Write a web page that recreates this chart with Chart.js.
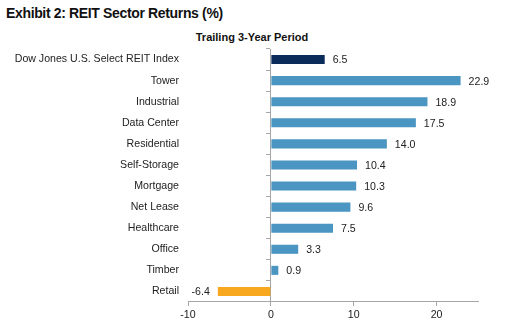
<!DOCTYPE html>
<html>
<head>
<meta charset="utf-8">
<script src="https://cdn.jsdelivr.net/npm/chart.js"></script>
<style>
  body { margin: 0; background: #fff; font-family: "Liberation Sans", Arial, sans-serif; }
  #wrap { position: relative; width: 513px; height: 332px; }
  #title { position: absolute; left: 6px; top: 5px; font-size: 14px; letter-spacing: -0.35px; font-weight: bold; color: #111; }
  #sub { position: absolute; left: 0; width: 504px; top: 31px; text-align: center; font-size: 11px; font-weight: bold; color: #111; }
  #box { position: absolute; left: 0; top: 44px; width: 513px; height: 288px; }
</style>
</head>
<body>
<div id="wrap">
  <div id="title">Exhibit 2: REIT Sector Returns (%)</div>
  <div id="sub">Trailing 3-Year Period</div>
  <div id="box"><canvas id="chart"></canvas></div>
</div>
<script>
const sectors = ['Dow Jones U.S. Select REIT Index', 'Tower', 'Industrial', 'Data Center', 'Residential',
  'Self-Storage', 'Mortgage', 'Net Lease', 'Healthcare', 'Office', 'Timber', 'Retail'];
const returns3yr = [6.5, 22.9, 18.9, 17.5, 14.0, 10.4, 10.3, 9.6, 7.5, 3.3, 0.9, -6.4];
const xTicks = [-10, 0, 10, 20];

const NAVY = '#0b2c5a', BLUE = '#4a95c2', ORANGE = '#f7a81e';
const barColors = returns3yr.map((v, i) => i === 0 ? NAVY : (v < 0 ? ORANGE : BLUE));

const FONT = '"Liberation Sans", Arial, sans-serif';
Chart.defaults.font.family = FONT;
Chart.defaults.font.size = 10.6;
Chart.defaults.color = '#222';

// value text at the end of each bar
const valueLabels = {
  id: 'valueLabels',
  afterDatasetsDraw(chart) {
    const ctx = chart.ctx;
    const meta = chart.getDatasetMeta(0);
    ctx.save();
    ctx.font = '10.6px ' + FONT;
    ctx.fillStyle = '#222';
    ctx.textBaseline = 'middle';
    meta.data.forEach((bar, i) => {
      const v = returns3yr[i];
      if (v >= 0) {
        ctx.textAlign = 'left';
        ctx.fillText(v.toFixed(1), bar.x + 8, bar.y + 1);
      } else {
        ctx.textAlign = 'right';
        ctx.fillText(v.toFixed(1), bar.x - 8, bar.y + 1);
      }
    });
    ctx.restore();
  }
};

new Chart(document.getElementById('chart'), {
  type: 'bar',
  data: {
    labels: sectors,
    datasets: [{
      data: returns3yr,
      backgroundColor: barColors,
      barPercentage: 0.43,
      categoryPercentage: 1
    }]
  },
  options: {
    indexAxis: 'y',
    responsive: true,
    maintainAspectRatio: false,
    animation: false,
    layout: { padding: { top: 5, right: 35, bottom: 7.3, left: 0 } },
    plugins: { legend: { display: false }, tooltip: { enabled: false } },
    scales: {
      x: {
        min: -10,
        max: 25,
        afterBuildTicks: (scale) => { scale.ticks = xTicks.map(v => ({ value: v })); },
        grid: { drawOnChartArea: false, tickLength: 4, color: '#a6a6a6' },
        border: { color: '#a6a6a6' },
        ticks: { padding: 3, color: '#222' }
      },
      y: {
        // fixed label column; the tick padding should not push the plot down
        afterFit: (scale) => {
          scale.width = 188;
          scale.paddingTop = 0;
          scale.paddingBottom = 0;
        },
        grid: { display: false, drawTicks: false },
        border: { display: false },
        ticks: { padding: 9, color: '#222' }
      },
      // vertical line at zero with small ticks between categories
      zero: {
        type: 'category',
        axis: 'y',
        position: { x: 0 },
        offset: true,
        grid: { offset: true, drawOnChartArea: false, tickLength: 4, color: '#a6a6a6' },
        border: { color: '#a6a6a6' },
        ticks: { display: false }
      }
    }
  },
  plugins: [valueLabels]
});
</script>
</body>
</html>
